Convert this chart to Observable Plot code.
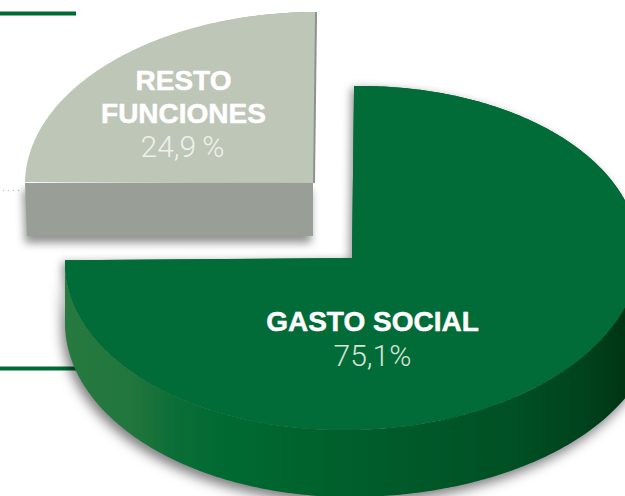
<!DOCTYPE html>
<html>
<head>
<meta charset="utf-8">
<style>html,body{margin:0;padding:0;background:#fff;overflow:hidden}svg{display:block}</style>
<script src="https://cdn.jsdelivr.net/npm/d3@7"></script>
<script src="https://cdn.jsdelivr.net/npm/@observablehq/plot@0.6"></script>
</head>
<body>
<div id="chart"></div>
<script>
const categories = ["GASTO SOCIAL", "RESTO FUNCIONES"];
const values = [75.1, 24.9];
const valueLabels = ["75,1%", "24,9\u2009%"];
const nameLines = [["GASTO SOCIAL"], ["RESTO", "FUNCIONES"]];
const sideStops = [[0, "#267a40"], [0.12, "#21763d"], [0.2, "#0b6d36"], [0.28, "#006a33"], [0.42, "#00632e"], [0.6, "#005a2a"], [0.8, "#005024"], [0.93, "#00421c"], [1, "#003514"]];

// Slices run clockwise from 12 o'clock, sized by their share.
const degrees = v => v / d3.sum(values) * 360;
function arc(from, to, o) {
  const n = Math.ceil(Math.abs(to - from) * 1.5);
  return d3.range(n + 1).map(i => {
    const a = (from + (to - from) * i / n) * Math.PI / 180;
    const s = Math.sin(a), c = Math.cos(a);
    const rx = s >= 0 ? (o.rxR ?? o.rx) : o.rx;
    const dx = rx * s, dy = -o.ry * c;
    return {x: o.cx + dx - (o.shear ?? 0) * dy, y: o.cy + dy - (o.shearY ?? 0) * dx};
  });
}
const greenTop = {cx: 352, cy: 258, rx: 287, ry: 172, shear: 0.012, shearY: 0.012};
const greenBase = {cx: 350, cy: 323, rx: 285, rxR: 305, ry: 174};
const grayTop = {cx: 313, cy: 183, rx: 288, ry: 171, shear: 0.012};
const grayEdgeOffset = 2;

const greenEnd = degrees(values[0]);
const greenFace = arc(0, greenEnd, greenTop);
const sideUpper = arc(greenEnd, 90, greenTop);
const sideLower = arc(greenEnd, 90, greenBase);
const side = sideUpper.map((p, i) => ({x1: p.x, y1: p.y, x2: sideLower[i].x, y2: sideLower[i].y}));
const grayFace = arc(greenEnd, 360, grayTop);
const grayEdge = arc(greenEnd, 360, {...grayTop, cx: grayTop.cx + grayEdgeOffset});
const graySideDepth = 53;
const graySide = [
  {x1: grayFace[0].x, y1: grayTop.cy, x2: grayFace[0].x + 2, y2: grayTop.cy + graySideDepth},
  {x1: grayTop.cx, y1: grayTop.cy, x2: grayTop.cx, y2: grayTop.cy + graySideDepth}
];
const fan = (pts, c, options) => Plot.area(pts, {x1: () => c.cx, y1: () => c.cy, x2: d => d.x, y2: d => d.y, ...options});

const font = "'Liberation Sans', Arial, sans-serif";
const thin = "Roboto, 'Liberation Sans', sans-serif";
const bold = {fill: "#fff", stroke: "#fff", strokeWidth: 0.5, fontFamily: font, fontWeight: 700, fontSize: 28, lineAnchor: "middle"};
const light = {fontFamily: thin, fontWeight: 300, fontSize: 30, lineAnchor: "middle"};

const plot = Plot.plot({
  width: 625, height: 496,
  margin: 0,
  style: {background: "#fff", overflow: "hidden"},
  x: {domain: [0, 625], range: [0, 625], axis: null},
  y: {domain: [0, 496], range: [0, 496], axis: null},
  marks: [
    Plot.ruleY([13], {x1: 0, x2: 76, stroke: "#006a35", strokeWidth: 4}),
    Plot.ruleY([368], {x1: 0, x2: 80, stroke: "#006a35", strokeWidth: 4}),
    Plot.dot([3, 8, 13, 18], {x: d => d, y: () => 190, r: 0.8, fill: "#c4c4c4"}),
    // gray slice
    Plot.area(graySide, {x1: "x1", y1: "y1", x2: "x2", y2: "y2", fill: "#999e96", imageFilter: "drop-shadow(-2px 7px 4px rgba(0,0,0,0.42))"}),
    fan(grayEdge, {...grayTop, cx: grayTop.cx + grayEdgeOffset}, {fill: "#8d928a"}),
    fan(grayFace, grayTop, {fill: "#bec6b8"}),
    // green slice
    fan(greenFace, greenTop, {fill: "#016c37", imageFilter: "drop-shadow(-3px 2px 4px rgba(0,0,0,0.4))"}),
    Plot.area(side, {x1: "x1", y1: "y1", x2: "x2", y2: "y2", fill: "url(#sideGrad)", imageFilter: "drop-shadow(-3px 6px 6px rgba(0,0,0,0.5))"}),
    fan(greenFace, greenTop, {fill: "#016c37"}),
    // labels
    Plot.text([nameLines[1][0]], {x: () => 183, y: () => 81, text: d => d, ...bold}),
    Plot.text([nameLines[1][1]], {x: () => 183, y: () => 114, text: d => d, ...bold}),
    Plot.text([valueLabels[1]], {x: () => 182, y: () => 147, text: d => d, fill: "#eef1eb", ...light}),
    Plot.text([nameLines[0][0]], {x: () => 372, y: () => 322, text: d => d, ...bold}),
    Plot.text([valueLabels[0]], {x: () => 372, y: () => 356, text: d => d, fill: "#d5e3d8", ...light})
  ]
});
const defs = d3.select(plot).insert("defs", ":first-child");
const grad = defs.append("linearGradient").attr("id", "sideGrad").attr("gradientUnits", "userSpaceOnUse")
  .attr("x1", 65).attr("x2", 625).attr("y1", 0).attr("y2", 0);
sideStops.forEach(([o, c]) => grad.append("stop").attr("offset", o).attr("stop-color", c));
document.getElementById("chart").append(plot);
</script>
</body>
</html>
